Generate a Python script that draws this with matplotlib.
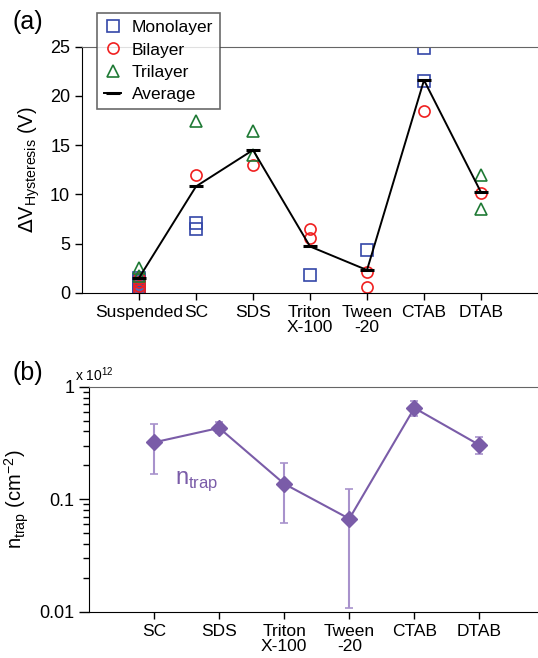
import matplotlib
matplotlib.use("Agg")
import matplotlib.pyplot as plt
import numpy as np

plt.rcParams['font.family'] = ['Liberation Sans', 'DejaVu Sans']

# ---------------- data (a) ----------------
cats_a = ["Suspended", "SC", "SDS", "Triton\nX-100", "Tween\n-20", "CTAB", "DTAB"]
# individual devices: (category index, value)
mono_cat = [1, 1, 1, 1, 1, 1, 1, 1, 2, 2, 6, 6, 5, 4]
mono_val = [0.0, 0.2, 0.4, 0.6, 0.8, 1.0, 1.2, 1.5, 7.1, 6.5, 24.9, 21.5, 4.3, 1.8]
bi_cat = [1, 1, 1, 1, 2, 3, 4, 4, 5, 5, 6, 7]
bi_val = [0.3, 0.7, 1.1, 1.5, 12.0, 13.0, 6.5, 5.6, 2.1, 0.6, 18.5, 10.1]
tri_cat = [1, 1, 2, 3, 3, 7, 7]
tri_val = [2.5, 1.7, 17.4, 16.4, 14.0, 12.0, 8.5]
avg_val = [1.5, 10.8, 14.5, 4.7, 2.3, 21.6, 10.2]

# ---------------- data (b) ----------------
cats_b = ["SC", "SDS", "Triton\nX-100", "Tween\n-20", "CTAB", "DTAB"]
ntrap = [0.32, 0.43, 0.137, 0.067, 0.647, 0.303]
ntrap_hi = [0.47, 0.49, 0.211, 0.124, 0.75, 0.36]
ntrap_lo = [0.167, 0.385, 0.062, 0.0107, 0.55, 0.254]

blue = "#3447a8"
red = "#f02020"
green = "#1f7a35"
purple = "#7a5ca8"
lpurple = "#a892cc"

fig = plt.figure(figsize=(5.38, 6.58), dpi=100)

# ---------- panel (a) ----------
axa = fig.add_axes([82/538, 1-292.7/658, 1-82/538, (292.7-46.7)/658])
xa = np.arange(1, len(cats_a)+1)
axa.plot(mono_cat, mono_val, ls='none', marker='s', ms=8, mfc='none', mec=blue, mew=1.2, label='Monolayer')
axa.plot(bi_cat, bi_val, ls='none', marker='o', ms=8, mfc='none', mec=red, mew=1.2, label='Bilayer')
axa.plot(tri_cat, tri_val, ls='none', marker='^', ms=8, mfc='none', mec=green, mew=1.2, label='Trilayer')
axa.plot(xa, avg_val, color='black', lw=1.4, marker='_', ms=10, mew=2.2, label='Average')
axa.set_xlim(0, 8)
axa.set_ylim(0, 25)
axa.set_yticks([0, 5, 10, 15, 20, 25])
axa.set_xticks(xa)
axa.set_xticklabels(cats_a, fontsize=12.5, linespacing=1.0)
axa.tick_params(axis='y', labelsize=13, direction='out', length=5, width=1)
axa.tick_params(axis='x', direction='out', length=5, width=1)
axa.spines['right'].set_visible(False)
axa.spines['top'].set_color('#666666')
axa.set_ylabel(r'$\Delta$V$_{\mathregular{Hysteresis}}$ (V)', fontsize=14.5, labelpad=6)
leg = fig.legend(loc='upper left', bbox_to_anchor=(97/538, 1-13/658), fontsize=12.5,
                 frameon=True, fancybox=False, edgecolor='#444444', handlelength=1.0,
                 handletextpad=0.6, borderpad=0.4, labelspacing=0.42, borderaxespad=0)
leg.get_frame().set_linewidth(1.2)
fig.text(12/538, 1-22/658, '(a)', fontsize=18, va='center', ha='left')

# ---------- panel (b) ----------
axb = fig.add_axes([89/538, 1-611.7/658, 1-89/538, (611.7-386.7)/658])
xb = np.arange(1, len(cats_b)+1)
ntrap_a = np.array(ntrap)
yerr = [ntrap_a - np.array(ntrap_lo), np.array(ntrap_hi) - ntrap_a]
axb.errorbar(xb, ntrap, yerr=yerr, fmt='none', ecolor=lpurple, elinewidth=1.5, capsize=3, capthick=1.2)
axb.plot(xb, ntrap, color=purple, lw=1.5, marker='D', ms=8, mfc=purple, mec=purple)
axb.set_yscale('log')
axb.set_ylim(0.01, 1)
axb.set_xlim(0, 6.9)
axb.set_yticks([0.01, 0.1, 1])
axb.set_yticklabels(['0.01', '0.1', '1'])
axb.set_xticks(xb)
axb.set_xticklabels(cats_b, fontsize=12.5, linespacing=1.0)
axb.tick_params(axis='y', which='major', labelsize=13, direction='out', length=7, width=1)
axb.tick_params(axis='y', which='minor', direction='out', length=4, width=1)
axb.tick_params(axis='x', direction='out', length=5, width=1)
axb.spines['right'].set_visible(False)
axb.spines['top'].set_color('#666666')
axb.set_ylabel(r'n$_{\mathregular{trap}}$ (cm$^{\mathregular{-2}}$)', fontsize=14.5, labelpad=6)
axb.text(1.65, 0.145, r'n$_{\mathregular{trap}}$', color=purple, fontsize=17, ha='center', va='center')
fig.text(75/538, 1-375/658, r'x 10$^{\mathregular{12}}$', fontsize=10, ha='left', va='center')
fig.text(12/538, 1-373/658, '(b)', fontsize=18, va='center', ha='left')

fig.savefig('out.png', dpi=100)
